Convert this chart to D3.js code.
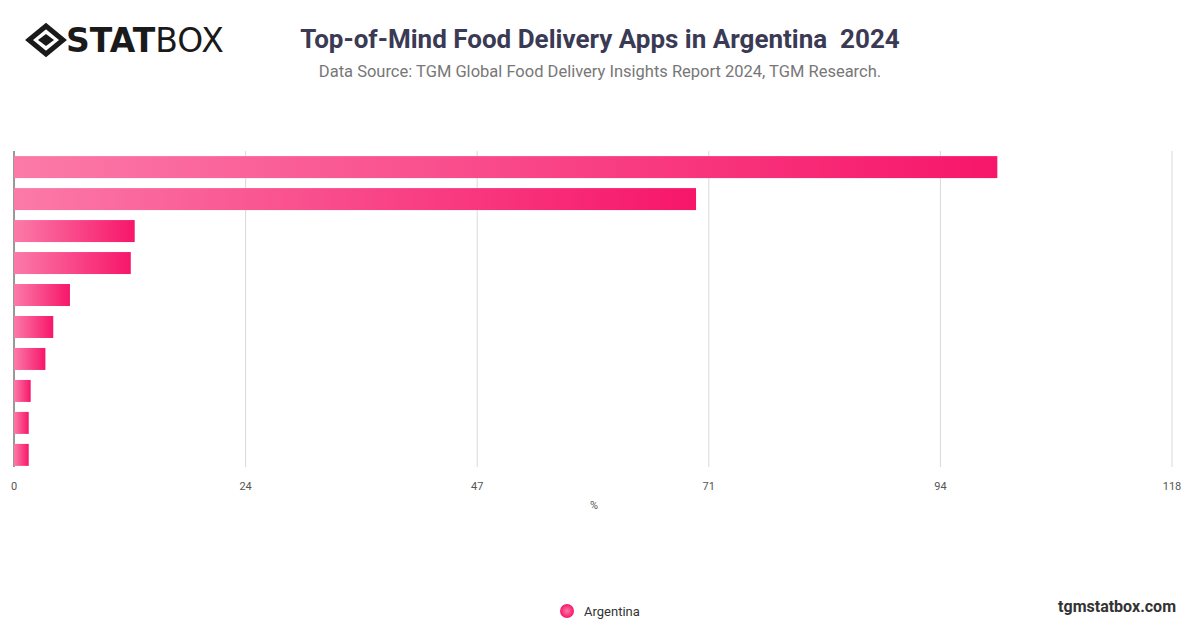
<!DOCTYPE html>
<html><head><meta charset="utf-8">
<script src="https://cdn.jsdelivr.net/npm/d3@7/dist/d3.min.js"></script>
<style>body{margin:0;background:#fff;font-family:Roboto,"Open Sans",sans-serif}text{white-space:pre}</style>
</head><body><svg id="c" width="1200" height="628"></svg>
<script>
const categories=["PedidosYa","Rappi","McDonald's","Mercado Libre","Burger King","Uber Eats","Glovo","iFood","Cabify","Other"];
const values=[100.2,69.5,12.3,11.9,5.7,4.0,3.2,1.7,1.5,1.5];
const tickLabels=["0","24","47","71","94","118"];
const seriesName="Argentina";
const svg=d3.select("#c");
const defs=svg.append("defs");
const g=defs.append("linearGradient").attr("id","gr").attr("x1","0").attr("x2","1");
g.append("stop").attr("offset","0").attr("stop-color","#fb7aa8");
g.append("stop").attr("offset","1").attr("stop-color","#f7166a");
const rg=defs.append("radialGradient").attr("id","lg");
rg.append("stop").attr("offset","0").attr("stop-color","#fb7aa8");
rg.append("stop").attr("offset","1").attr("stop-color","#f7166a");
const x=d3.scaleLinear().domain([0,118]).range([14,1172]);
const ticks=tickLabels.map((l,i)=>({l,v:i*118/5}));
const y=d3.scaleBand().domain(categories).range([151,471]).paddingInner(0.3125).paddingOuter(0.16);
svg.append("g").selectAll("line").data(ticks.slice(1)).join("line")
 .attr("x1",d=>x(d.v)).attr("x2",d=>x(d.v)).attr("y1",151).attr("y2",467).attr("stroke","#d9d9d9");
svg.append("line").attr("x1",14).attr("x2",14).attr("y1",151).attr("y2",467).attr("stroke","#333");
svg.append("g").selectAll("rect").data(values).join("rect")
 .attr("x",x(0)).attr("y",(d,i)=>y(categories[i])).attr("height",y.bandwidth())
 .attr("width",d=>x(d)-x(0)).attr("fill","url(#gr)");
svg.append("g").selectAll("text").data(ticks).join("text")
 .attr("x",d=>x(d.v)).attr("y",490).attr("text-anchor","middle").attr("font-size",11).attr("fill","#555").text(d=>d.l);
svg.append("text").attr("x",594).attr("y",509).attr("text-anchor","middle").attr("font-size",11).attr("fill","#555").text("%");
svg.append("text").attr("x",600).attr("y",48).attr("text-anchor","middle").attr("font-size",26).attr("font-weight","bold").attr("fill","#3a3a55").text("Top-of-Mind Food Delivery Apps in Argentina  2024");
svg.append("text").attr("x",600).attr("y",77).attr("text-anchor","middle").attr("font-size",16.5).attr("fill","#777").text("Data Source: TGM Global Food Delivery Insights Report 2024, TGM Research.");
svg.append("circle").attr("cx",567).attr("cy",611).attr("r",7).attr("fill","url(#lg)");
svg.append("text").attr("x",584).attr("y",616).attr("font-size",13).attr("fill","#333").text(seriesName);
svg.append("text").attr("x",1176).attr("y",612).attr("text-anchor","end").attr("font-size",16).attr("font-weight","bold").attr("fill","#333").text("tgmstatbox.com");
const lg=svg.append("g");
lg.append("path").attr("d","M29,40 L46,26 L63,40 L46,54 Z").attr("fill","none").attr("stroke","#1a1a1a").attr("stroke-width",5);
lg.append("path").attr("d","M38,40 L46,34 L54,40 L46,46 Z").attr("fill","#1a1a1a");
const t=lg.append("text").attr("x",66).attr("y",52).attr("font-size",33).attr("fill","#1a1a1a").attr("font-family","'DejaVu Sans',sans-serif");
t.append("tspan").attr("font-weight","900").text("STAT");
t.append("tspan").attr("font-weight","normal").text("BOX");
</script></body></html>
